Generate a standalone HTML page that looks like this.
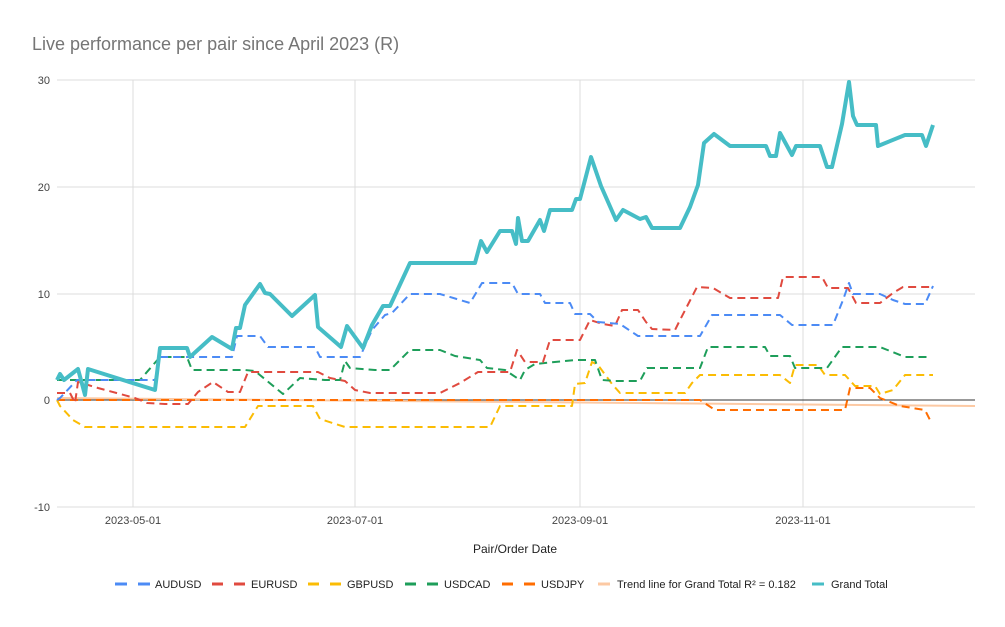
<!DOCTYPE html>
<html><head><meta charset="utf-8"><style>
body{margin:0;background:#fff;font-family:"Liberation Sans",Arial,sans-serif}
</style></head><body>
<svg width="1005" height="622" xmlns="http://www.w3.org/2000/svg" font-family="Liberation Sans, Arial, sans-serif">
<rect width="1005" height="622" fill="#fff"/>
<text x="32" y="50" font-size="18" fill="#757575">Live performance per pair since April 2023 (R)</text>
<g stroke="#dcdcdc" stroke-width="1">
<line x1="57" x2="975" y1="80" y2="80"/><line x1="57" x2="975" y1="187" y2="187"/>
<line x1="57" x2="975" y1="294" y2="294"/><line x1="57" x2="975" y1="507" y2="507"/>
<line x1="133" x2="133" y1="80" y2="507"/><line x1="355" x2="355" y1="80" y2="507"/>
<line x1="580" x2="580" y1="80" y2="507"/><line x1="803" x2="803" y1="80" y2="507"/>
</g>
<line x1="57" x2="975" y1="400" y2="400" stroke="#333" stroke-width="1"/>
<g font-size="11" fill="#444" text-anchor="end">
<text x="50" y="84">30</text><text x="50" y="191">20</text><text x="50" y="298">10</text><text x="50" y="404">0</text><text x="50" y="511">-10</text>
</g>
<g font-size="11" fill="#444" text-anchor="middle">
<text x="133" y="524">2023-05-01</text><text x="355" y="524">2023-07-01</text><text x="580" y="524">2023-09-01</text><text x="803" y="524">2023-11-01</text>
<text x="515" y="553" font-size="12" fill="#222">Pair/Order Date</text>
</g>
<line x1="57" y1="398" x2="975" y2="406" stroke="#fcc9a3" stroke-width="2"/>
<g fill="none" stroke-width="2" stroke-dasharray="8,5" stroke-linejoin="round">
<polyline stroke="#ff6d01" points="57,400 700,400 715,410 845,410 850,388 870,388 880,398 900,406 925,410 930,420"/>
<polyline stroke="#fbbc04" points="57,400 60,406 73,420 85,427 245,427 258,406 313,406 320,419 345,427 490,427 500,406 572,406 575,384 585,383 592,362 598,365 612,384 620,393 685,393 692,383 700,375 780,375 790,383 795,365 818,365 825,375 845,375 855,386 875,386 880,394 893,390 905,375 933,375"/>
<polyline stroke="#1e9e5a" points="57,380 140,380 160,357 187,357 192,370 245,370 255,371 283,394 300,378 325,380 340,380 345,361 350,368 375,370 390,370 410,350 440,350 455,356 480,360 487,368 505,370 520,380 525,370 535,364 575,360 595,360 602,380 615,381 640,381 647,368 700,368 708,347 765,347 770,356 790,356 795,368 827,368 842,347 880,347 905,357 930,357"/>
<polyline stroke="#e04a3f" points="57,393 70,393 75,403 78,382 85,384 98,388 135,398 147,403 165,404 188,404 198,392 213,382 228,392 240,392 248,372 258,372 318,372 330,378 345,381 355,390 370,393 440,393 460,383 478,372 510,372 517,350 525,362 543,362 550,340 580,340 590,320 603,324 615,326 622,310 638,310 646,322 652,329 675,330 680,320 697,287 713,288 730,298 778,298 783,277 822,277 828,288 848,288 856,303 880,303 893,293 903,287 930,287"/>
<polyline stroke="#4c8bf5" points="57,400 60,398 77,380 155,380 160,357 232,357 237,336 260,336 268,347 315,347 320,357 360,357 372,330 385,315 392,313 410,294 440,294 470,303 482,283 512,283 518,294 540,294 545,303 570,303 575,314 590,314 598,322 620,324 638,336 700,336 712,315 780,315 792,325 833,325 843,300 849,283 853,294 880,294 893,300 905,304 925,304 933,286"/>
</g>
<polyline fill="none" stroke="#46bdc6" stroke-width="4" stroke-linejoin="round" points="57,380 60,374 64,380 78,369 85,395 88,369 155,390 160,348 187,348 190,357 212,337 232,349 236,328 240,328 245,305 260,284 265,293 270,294 292,316 315,295 318,327 341,347 347,326 363,348 372,325 383,306 390,306 410,263 475,263 481,241 487,252 500,231 512,231 516,244 518,218 522,241 528,241 540,220 544,231 550,210 572,210 576,199 580,199 585,180 591,157 601,186 616,220 623,210 640,219 646,217 652,228 680,228 690,207 698,185 704,143 714,134 730,146 766,146 770,156 776,156 780,133 792,155 796,146 820,146 827,167 832,167 842,124 849,82 853,116 857,125 876,125 878,146 905,135 922,135 926,146 933,125"/>
<g font-size="11" fill="#222">
<line x1="115" x2="150" y1="584" y2="584" stroke="#4c8bf5" stroke-width="3" stroke-dasharray="12,11"/><text x="155" y="588">AUDUSD</text>
<line x1="212" x2="245" y1="584" y2="584" stroke="#e04a3f" stroke-width="3" stroke-dasharray="11,11"/><text x="251" y="588">EURUSD</text>
<line x1="308" x2="341" y1="584" y2="584" stroke="#fbbc04" stroke-width="3" stroke-dasharray="11,11"/><text x="347" y="588">GBPUSD</text>
<line x1="405" x2="438" y1="584" y2="584" stroke="#1e9e5a" stroke-width="3" stroke-dasharray="11,11"/><text x="444" y="588">USDCAD</text>
<line x1="502" x2="535" y1="584" y2="584" stroke="#ff6d01" stroke-width="3" stroke-dasharray="11,11"/><text x="541" y="588">USDJPY</text>
<line x1="598" x2="610" y1="584" y2="584" stroke="#fcc9a3" stroke-width="3"/><text x="617" y="588">Trend line for Grand Total R² = 0.182</text>
<line x1="812" x2="824" y1="584" y2="584" stroke="#46bdc6" stroke-width="3"/><text x="831" y="588">Grand Total</text>
</g>
</svg>
</body></html>
